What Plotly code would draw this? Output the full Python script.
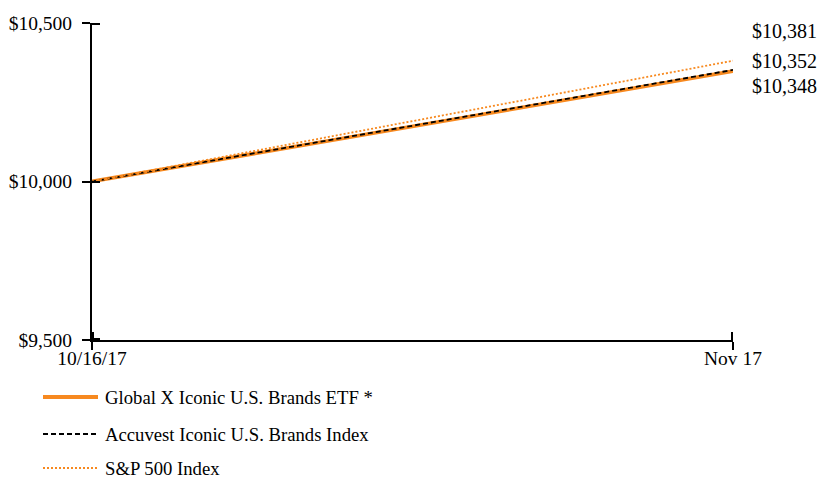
import plotly.graph_objects as go

x_pos = [0, 1]
x_labels = ["10/16/17", "Nov 17"]
etf = [10000, 10348]
accuvest = [10000, 10352]
sp500 = [10000, 10381]
series_names = ["Global X Iconic U.S. Brands ETF *", "Accuvest Iconic U.S. Brands Index", "S&P 500 Index"]
y_ticks = [9500, 10000, 10500]
y_tick_labels = ["$9,500", "$10,000", "$10,500"]
y_range = [9500, 10500]
x_range = [0, 1]

ORANGE = "#F7891F"
FONT = "Liberation Serif"

W, H = 817, 478
ML, MR, MT, MB = 92, 84, 23, 138
PW, PH = W - ML - MR, H - MT - MB

def px2paper_x(px):
    return (px - ML) / PW

def px2paper_y(py):
    return (H - MB - py) / PH

# overlay axes are widened by ~1.3 px so their inside ticks at the range ends are not clipped
EXT = 1.3
xdu = (x_range[1] - x_range[0]) / PW * EXT
ydu = (y_range[1] - y_range[0]) / PH * EXT

fig = go.Figure()
fig.add_trace(go.Scatter(x=x_pos, y=etf, mode="lines", name=series_names[0],
                         line=dict(color=ORANGE, width=3.8), showlegend=False))
fig.add_trace(go.Scatter(x=x_pos, y=accuvest, mode="lines", name=series_names[1],
                         line=dict(color="black", width=1.8, dash="5px,3px"), showlegend=False))
fig.add_trace(go.Scatter(x=x_pos, y=sp500, mode="lines", name=series_names[2],
                         line=dict(color=ORANGE, width=1.8, dash="2px,2px"), showlegend=False))
# invisible trace to activate the inner-tick axes
fig.add_trace(go.Scatter(x=x_pos, y=etf, xaxis="x2", yaxis="y2", mode="lines",
                         line=dict(color="rgba(0,0,0,0)", width=1), showlegend=False, hoverinfo="skip"))

axis_common = dict(showgrid=False, zeroline=False, ticklen=8, tickwidth=2, tickcolor="black",
                   automargin=False)
fig.update_layout(
    width=W, height=H,
    margin=dict(l=ML, r=MR, t=MT, b=MB, autoexpand=False),
    plot_bgcolor="white", paper_bgcolor="white",
    font=dict(family=FONT, size=19.5, color="black"),
    xaxis=dict(range=x_range, tickvals=x_pos, ticktext=x_labels, ticks="outside",
               showline=True, linecolor="black", linewidth=2, ticklabelstandoff=-8, **axis_common),
    yaxis=dict(range=y_range, tickvals=y_ticks, ticktext=y_tick_labels, ticks="outside",
               showline=True, linecolor="black", linewidth=2, ticklabelstandoff=6, **axis_common),
    xaxis2=dict(range=[x_range[0] - xdu, x_range[1] + xdu], tickvals=x_pos, ticks="inside",
                showticklabels=False, overlaying="x", anchor="y2", side="bottom", **axis_common),
    yaxis2=dict(range=[y_range[0] - ydu, y_range[1] + ydu], tickvals=y_ticks, ticks="inside",
                showticklabels=False, overlaying="y", anchor="x2", side="left", **axis_common),
    showlegend=False,
)

# end-value labels
end_vals = [sp500[-1], accuvest[-1], etf[-1]]
end_shifts = [30, 9, -15]
for v, s in zip(end_vals, end_shifts):
    fig.add_annotation(x=1, y=v, xref="x", yref="y", text=f"${v:,}", showarrow=False,
                       xanchor="left", xshift=17, yshift=s, font=dict(size=20, family=FONT))

# manual legend
leg_styles = [dict(color=ORANGE, width=3.8), dict(color="black", width=1.8, dash="5px,3px"),
              dict(color=ORANGE, width=1.8, dash="2px,2px")]
leg_y = [397, 434, 468]
for name, st, yp in zip(series_names, leg_styles, leg_y):
    yy = px2paper_y(yp)
    fig.add_shape(type="line", xref="paper", yref="paper",
                  x0=px2paper_x(43), x1=px2paper_x(98), y0=yy, y1=yy, line=st)
    fig.add_annotation(xref="paper", yref="paper", x=px2paper_x(103), y=yy,
                       text=name, showarrow=False, xanchor="left", yanchor="middle",
                       font=dict(size=18.7, family=FONT))

fig.write_html("out.html")
